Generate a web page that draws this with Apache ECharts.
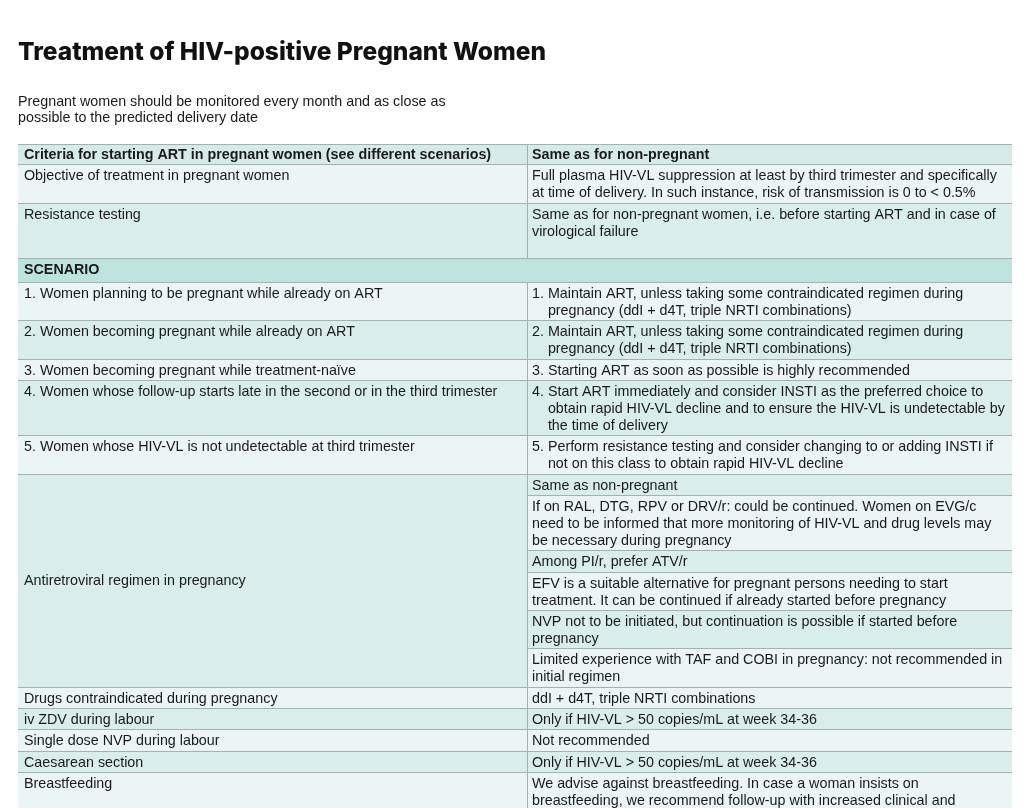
<!DOCTYPE html>
<html><head><meta charset="utf-8">
<script src="https://cdn.jsdelivr.net/npm/echarts@6/dist/echarts.min.js"></script>
<style>html,body{margin:0;padding:0;background:#fff}#c{width:1024px;height:808px}</style>
</head><body><div id="c"></div>
<script>
// ---------------- DATA ----------------
const titleText = 'Treatment of HIV-positive Pregnant Women';
const subtitleText = 'Pregnant women should be monitored every month and as close as\npossible to the predicted delivery date';

const headerLeft = 'Criteria for starting ART in pregnant women (see different scenarios)';
const headerRight = 'Same as for non-pregnant';

const generalTopics = [
  'Objective of treatment in pregnant women',
  'Resistance testing'
];
const generalAnswers = [
  'Full plasma HIV-VL suppression at least by third trimester and specifically\nat time of delivery. In such instance, risk of transmission is 0 to < 0.5%',
  'Same as for non-pregnant women, i.e. before starting ART and in case of\nvirological failure\n'
];

const scenarioLabel = 'SCENARIO';
const scenarios = [
  '1. Women planning to be pregnant while already on ART',
  '2. Women becoming pregnant while already on ART',
  '3. Women becoming pregnant while treatment-naïve',
  '4. Women whose follow-up starts late in the second or in the third trimester',
  '5. Women whose HIV-VL is not undetectable at third trimester'
];
const scenarioActions = [
  '1. Maintain ART, unless taking some contraindicated regimen during\npregnancy (ddI + d4T, triple NRTI combinations)',
  '2. Maintain ART, unless taking some contraindicated regimen during\npregnancy (ddI + d4T, triple NRTI combinations)',
  '3. Starting ART as soon as possible is highly recommended',
  '4. Start ART immediately and consider INSTI as the preferred choice to\nobtain rapid HIV-VL decline and to ensure the HIV-VL is undetectable by\nthe time of delivery',
  '5. Perform resistance testing and consider changing to or adding INSTI if\nnot on this class to obtain rapid HIV-VL decline'
];

const regimenLabel = 'Antiretroviral regimen in pregnancy';
const regimenNotes = [
  'Same as non-pregnant',
  'If on RAL, DTG, RPV or DRV/r: could be continued. Women on EVG/c\nneed to be informed that more monitoring of HIV-VL and drug levels may\nbe necessary during pregnancy',
  'Among PI/r, prefer ATV/r',
  'EFV is a suitable alternative for pregnant persons needing to start\ntreatment. It can be continued if already started before pregnancy',
  'NVP not to be initiated, but continuation is possible if started before\npregnancy',
  'Limited experience with TAF and COBI in pregnancy: not recommended in\ninitial regimen'
];

const deliveryTopics = [
  'Drugs contraindicated during pregnancy',
  'iv ZDV during labour',
  'Single dose NVP during labour',
  'Caesarean section',
  'Breastfeeding'
];
const deliveryAnswers = [
  'ddI + d4T, triple NRTI combinations',
  'Only if HIV-VL > 50 copies/mL at week 34-36',
  'Not recommended',
  'Only if HIV-VL > 50 copies/mL at week 34-36',
  'We advise against breastfeeding. In case a woman insists on\nbreastfeeding, we recommend follow-up with increased clinical and\nvirological monitoring of both the mother and the infant'
];

// ---------------- LAYOUT / STYLE ----------------
const FAMILY = '"Liberation Sans", Arial, Helvetica, sans-serif';
const FONT = '14.3px ' + FAMILY;
const BOLD = 'bold 14.3px ' + FAMILY;
const LINE_PX = 17;
const PAD = 0.25;          // extra row height in line units
const SPLIT = 51.2;        // column divider on x axis (0..100)
const YMAX = 38.95;        // y axis extent in line units
const COL = {
  header: '#d6ebe7', dark: '#d9eeea', light: '#ebf5f3', accent: '#bde3dc',
  border: '#a2b2af', text: '#1a1a1a'
};

const measureCtx = document.createElement('canvas').getContext('2d');
function textWidth(t, font) { measureCtx.font = font; return measureCtx.measureText(t).width; }
const nLines = t => t.split('\n').length;

const cells = [];
let y = 0;
function cell(x0, x1, y0, y1, text, opt) {
  cells.push(Object.assign({ x0, x1, y0, y1, lines: text.split('\n'), bold: false, bg: COL.light, vcenter: false, padX: 6 }, opt || {}));
}
function twoColRow(left, right, opt) {
  const h = Math.max(nLines(left), nLines(right)) + PAD;
  cell(0, SPLIT, y, y + h, left, Object.assign({ padX: 6 }, opt));
  cell(SPLIT, 100, y, y + h, right, Object.assign({ padX: 5 }, opt));
  y += h;
}
let k = 0;
const shade = () => (k++ % 2 === 0 ? COL.light : COL.dark);

twoColRow(headerLeft, headerRight, { bold: true, bg: COL.header, topLine: true });
generalTopics.forEach((t, i) => twoColRow(t, generalAnswers[i], { bg: shade() }));
{ const h = 1 + PAD + 0.15; cell(0, 100, y, y + h, scenarioLabel, { bold: true, bg: COL.accent }); y += h; }
scenarios.forEach((t, i) => twoColRow(t, scenarioActions[i], { bg: shade() }));
{
  const y0 = y; const bg = shade();
  regimenNotes.forEach((t, j) => {
    const h = nLines(t) + PAD;
    cell(SPLIT, 100, y, y + h, t, { padX: 5, bg: j % 2 === 0 ? COL.dark : COL.light });
    y += h;
  });
  cell(0, SPLIT, y0, y, regimenLabel, { bg, vcenter: true });
}
deliveryTopics.forEach((t, i) => twoColRow(t, deliveryAnswers[i], { bg: shade() }));

// ---------------- CHART ----------------
function renderItem(params, api) {
  const c = cells[api.value(4)];
  const p0 = api.coord([c.x0, c.y0]);
  const p1 = api.coord([c.x1, c.y1]);
  const L = Math.round(p0[0]), R = Math.round(p1[0]);
  const T = Math.round(p0[1]), B = Math.round(p1[1]);
  const children = [{ type: 'rect', shape: { x: L, y: T, width: R - L, height: B - T }, style: { fill: c.bg } }];
  children.push({ type: 'line', shape: { x1: L, y1: B - 0.5, x2: R, y2: B - 0.5 }, style: { stroke: COL.border, lineWidth: 1 } });
  if (c.topLine) children.push({ type: 'line', shape: { x1: L, y1: T + 0.5, x2: R, y2: T + 0.5 }, style: { stroke: COL.border, lineWidth: 1 } });
  if (c.x0 > 0) children.push({ type: 'line', shape: { x1: L + 0.5, y1: T, x2: L + 0.5, y2: B }, style: { stroke: COL.border, lineWidth: 1 } });
  const font = c.bold ? BOLD : FONT;
  const m = c.lines[0].match(/^(\d+\.\s)/);
  const indent = m ? textWidth(m[1], font) : 0;
  const top = c.vcenter ? (T + B) / 2 - c.lines.length * LINE_PX / 2 : T + 3;
  c.lines.forEach((ln, i) => {
    if (!ln) return;
    children.push({
      type: 'text',
      style: {
        text: ln, x: L + c.padX + (i > 0 ? indent : 0), y: top + i * LINE_PX,
        font, fill: COL.text, verticalAlign: 'top', align: 'left', lineHeight: LINE_PX
      }
    });
  });
  return { type: 'group', children };
}

const chart = echarts.init(document.getElementById('c'), null, { renderer: 'canvas' });
chart.setOption({
  animation: false,
  backgroundColor: '#ffffff',
  title: [
    { text: titleText, left: 18, top: 40, padding: 0,
      textStyle: { fontFamily: 'Inter, "Liberation Sans", sans-serif', fontWeight: 800, fontSize: 24.5, color: '#111111' } },
    { text: subtitleText, left: 18, top: 94, padding: 0,
      textStyle: { fontFamily: FAMILY, fontWeight: 'normal', fontSize: 14.3, lineHeight: 16, color: COL.text } }
  ],
  grid: { left: 18, right: 12, top: 144, bottom: 0 },
  xAxis: { type: 'value', min: 0, max: 100, show: false },
  yAxis: { type: 'value', min: 0, max: YMAX, inverse: true, show: false },
  series: [{
    type: 'custom',
    coordinateSystem: 'cartesian2d',
    silent: true,
    clip: false,
    renderItem,
    encode: { x: [0, 2], y: [1, 3] },
    data: cells.map((c, i) => [c.x0, c.y0, c.x1, c.y1, i])
  }]
});
</script>
</body></html>
